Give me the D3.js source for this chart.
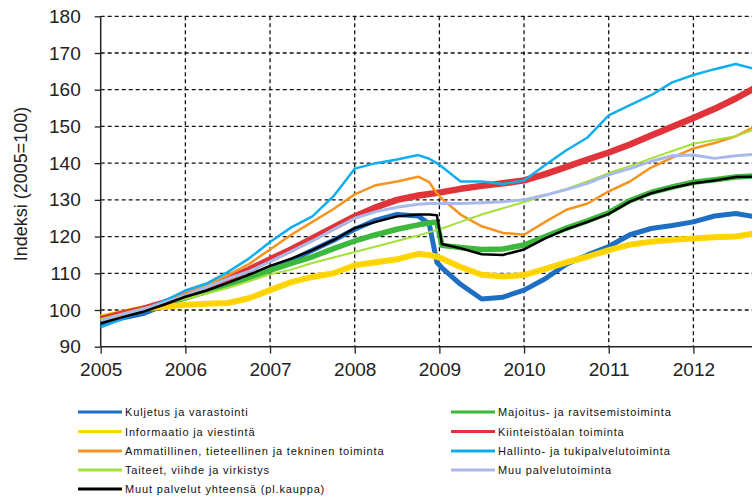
<!DOCTYPE html>
<html>
<head>
<meta charset="utf-8">
<script src="https://cdn.jsdelivr.net/npm/d3@7"></script>
<style>
  body { margin: 0; background: #fff; }
  svg { display: block; }
  .tick text { font-family: "Liberation Sans", Arial, sans-serif; font-size: 19px; fill: #222; }
  .legend text { font-family: "Liberation Sans", Arial, sans-serif; font-size: 11px; fill: #111; letter-spacing: 0.85px; }
</style>
</head>
<body>
<svg id="chart" width="752" height="503"></svg>
<script>
// time points (decimal years), quarterly with extra points around the 2009 break
const times = [
  2005.0, 2005.25, 2005.5, 2005.75, 2006.0, 2006.25, 2006.5, 2006.75,
  2007.0, 2007.25, 2007.5, 2007.75, 2008.0, 2008.25, 2008.5, 2008.75,
  2008.88, 2008.97, 2009.03, 2009.25, 2009.5, 2009.75,
  2010.0, 2010.25, 2010.5, 2010.75, 2011.0, 2011.25, 2011.5, 2011.75,
  2012.0, 2012.25, 2012.5, 2012.75
]

const kuljetus = [96, 97.8, 99, 101.3, 103.5, 105, 107, 108.8, 111, 113.5, 116.3, 119, 122, 124.5, 126, 125.6,
  123.5, 113, 111.5, 107, 103, 103.5, 105.4, 108.5, 112.5, 115, 117.3, 120.5, 122.2, 123, 124, 125.6, 126.3, 125.3]
const majoitus = [97, 98.5, 100, 101.5, 103.3, 105, 107, 108.8, 110.8, 112.7, 114.5, 116.7, 118.8, 120.5, 122, 123.2,
  123.7, 124, 117.6, 117, 116.5, 116.6, 117.7, 120, 122.3, 124.3, 126.5, 129.8, 132, 133.5, 134.8, 135.5, 136.2, 136.6]
const informaatio = [98, 99.2, 100.5, 100.8, 101.4, 101.7, 101.9, 103.2, 105.4, 107.6, 109, 110, 112.2, 113, 113.8, 115.3,
  115, 114.5, 114, 111.7, 109.6, 109.1, 109.5, 111.2, 113, 114.5, 116.3, 117.8, 118.6, 119.1, 119.5, 119.8, 120, 121]
const kiinteisto = [97.5, 99, 100.3, 102, 104, 106, 108.5, 111, 113.8, 116.5, 119.5, 122.5, 125.5, 128, 130, 131.2,
  131.6, 131.9, 132.1, 133, 133.8, 134.5, 135.3, 137, 139, 141, 142.9, 145.1, 147.5, 149.9, 152.3, 154.8, 157.6, 160.8]
const ammatillinen = [96.5, 98.5, 100, 102.5, 104.8, 106.8, 109.5, 112.5, 116.5, 120.5, 124, 127.5, 131.5, 134, 135, 136.3,
  134.8, 131.8, 130.3, 126, 122.8, 121, 120.5, 124, 127.3, 129, 132.3, 135, 138.8, 141.5, 144, 145.5, 147.3, 150.3]
const hallinto = [95.3, 97.5, 100, 102.5, 105.3, 107.2, 110.3, 114, 118.5, 122.5, 125.5, 131, 138.5, 140, 141, 142.2,
  141.2, 140, 139, 135, 135, 134.3, 135.3, 139.5, 143.5, 147, 153, 155.8, 158.5, 162, 164, 165.6, 167, 165.5]
const taiteet = [97.5, 99, 100.5, 101.8, 103, 104.5, 106, 107.8, 109.7, 111, 112.8, 114.3, 115.8, 117.3, 118.8, 120.3,
  121.2, 121.8, 122.2, 124, 126, 127.7, 129.4, 131.2, 133, 135, 137.3, 139.2, 141.3, 143.3, 145.3, 146.3, 147.3, 149.5]
const muu = [97, 98.8, 100.2, 102, 104, 106.2, 108.5, 110.5, 113.2, 116, 118.8, 122, 125, 126.8, 128, 128.8,
  129, 129, 129, 129, 129.2, 129.5, 130, 131.3, 132.8, 134.5, 136.8, 138.5, 140.5, 142, 142.2, 141.3, 142, 142.5]
const muutYht = [96.4, 98, 99.5, 101.5, 103.6, 105.3, 107.4, 109.6, 112, 114, 116.3, 119, 122.3, 124, 125.5, 126,
  126, 125.8, 118, 116.8, 115.2, 115, 116.5, 119.5, 122, 124, 126.2, 129.5, 131.8, 133.3, 134.5, 135.3, 136.2, 136.3]

const yearTicks = [2005, 2006, 2007, 2008, 2009, 2010, 2011, 2012]
const valueTicks = [90, 100, 110, 120, 130, 140, 150, 160, 170, 180]

// drawing order follows the legend, black total on top
const series = [
  { name: "Kuljetus ja varastointi", values: kuljetus, color: "#1e6fc4", width: 5 },
  { name: "Majoitus- ja ravitsemistoiminta", values: majoitus, color: "#3cb83c", width: 5.5 },
  { name: "Informaatio ja viestintä", values: informaatio, color: "#ffd600", width: 6, dots: "#e8bf00" },
  { name: "Kiinteistöalan toiminta", values: kiinteisto, color: "#e0333a", width: 6.5 },
  { name: "Ammatillinen, tieteellinen ja tekninen toiminta", values: ammatillinen, color: "#f7941d", width: 2.5 },
  { name: "Hallinto- ja tukipalvelutoiminta", values: hallinto, color: "#10aeef", width: 2.5 },
  { name: "Taiteet, viihde ja virkistys", values: taiteet, color: "#a6e03a", width: 2 },
  { name: "Muu palvelutoiminta", values: muu, color: "#a8baea", width: 3 },
  { name: "Muut palvelut yhteensä (pl.kauppa)", values: muutYht, color: "#000000", width: 2.5 }
]
const legendOrder = [0, 1, 2, 3, 4, 5, 6, 7, 8] // row-major over two columns

const M = { left: 100.7, right: 756.9, top: 16.3, bottom: 346.7 }

const svg = d3.select("#chart")
const x = d3.scaleLinear().domain([2005, 2012.75]).range([M.left, M.right])
const y = d3.scaleLinear().domain([90, 180]).range([M.bottom, M.top])

// dashed grid
const grid = svg.append("g").attr("stroke", "#111").attr("stroke-width", 1.3).attr("stroke-dasharray", "4,3")
grid.selectAll("line.h").data(valueTicks.filter(v => v > 90)).join("line")
  .attr("x1", M.left).attr("x2", M.right)
  .attr("y1", d => y(d)).attr("y2", d => y(d))
grid.selectAll("line.v").data(yearTicks.filter(t => t > 2005)).join("line")
  .attr("x1", d => x(d)).attr("x2", d => x(d))
  .attr("y1", M.top).attr("y2", M.bottom)

// axes
svg.append("g").attr("transform", `translate(${M.left},0)`)
  .call(d3.axisLeft(y).tickValues(valueTicks).tickSize(6).tickPadding(14).tickFormat(d3.format("d")))
svg.append("g").attr("transform", `translate(0,${M.bottom})`)
  .call(d3.axisBottom(x).tickValues(yearTicks).tickSize(7).tickPadding(9).tickFormat(d3.format("d")))
svg.selectAll(".domain").remove()
svg.selectAll(".tick line").attr("stroke", "#222").attr("stroke-width", 1.3)
svg.append("line").attr("x1", M.left).attr("x2", M.left).attr("y1", M.top).attr("y2", M.bottom)
  .attr("stroke", "#222").attr("stroke-width", 1.5)
svg.append("line").attr("x1", M.left).attr("x2", M.right).attr("y1", M.bottom).attr("y2", M.bottom)
  .attr("stroke", "#222").attr("stroke-width", 1.5)

svg.append("text")
  .attr("transform", `translate(27,184) rotate(-90)`)
  .attr("text-anchor", "middle")
  .style("font-family", "Liberation Sans, Arial, sans-serif")
  .style("font-size", "18px").style("fill", "#222")
  .text("Indeksi (2005=100)")

// lines
const line = d3.line().x((d, i) => x(times[i])).y(d => y(d))
const lines = svg.append("g")
series.forEach(s => {
  lines.append("path")
    .attr("d", line(s.values))
    .attr("fill", "none")
    .attr("stroke", s.color)
    .attr("stroke-width", s.width)
    .attr("stroke-linejoin", "round")
  if (s.dots) {
    lines.append("path")
      .attr("d", line(s.values))
      .attr("fill", "none")
      .attr("stroke", s.dots)
      .attr("stroke-width", 1.2)
      .attr("stroke-dasharray", "1,3")
  }
})

// legend
const legend = svg.append("g").attr("class", "legend")
const rowY = [412, 431.5, 451, 470, 489]
const colX = [78, 451]
legendOrder.forEach((si, k) => {
  const s = series[si]
  const cx = colX[k % 2], cy = rowY[Math.floor(k / 2)]
  legend.append("line").attr("x1", cx).attr("x2", cx + 44).attr("y1", cy).attr("y2", cy)
    .attr("stroke", s.color).attr("stroke-width", 3)
  legend.append("text").attr("x", cx + 47).attr("y", cy + 4).text(s.name)
})
</script>
</body>
</html>
